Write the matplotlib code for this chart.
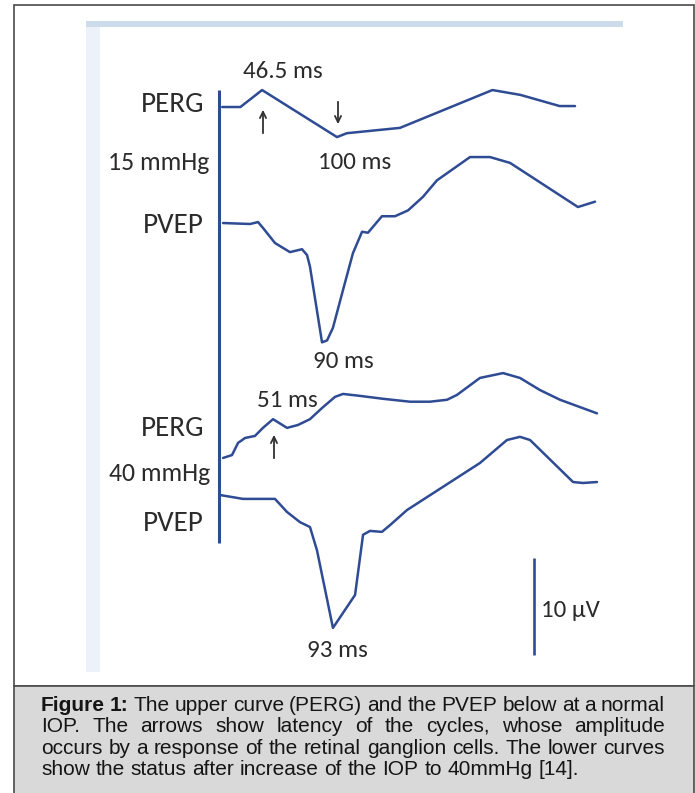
import matplotlib
matplotlib.use("Agg")
import matplotlib.pyplot as plt
from matplotlib import font_manager
from matplotlib.patches import Rectangle

# traces: time (ms) and amplitude (uV, relative to the trace start)
perg15_t = [18, 31, 46.5, 100, 107, 145, 211, 231, 259, 270]
perg15_v = [0, 0, 1.75, -3.1, -2.7, -2.15, 1.75, 1.25, 0.1, 0.1]

pvep15_t = [18.6, 37.9, 43.6, 47.1, 55.7, 66.4, 75, 78.6, 80.7, 89.3, 92.9, 97.1,
            104.3, 111.4, 117.9, 122.1, 132.1, 141.4, 150.7, 161.4, 171.4, 195,
            209.3, 223.6, 272.1, 284.3]
pvep15_v = [0, -0.1, 0.1, -0.5, -2.06, -3.0, -2.7, -3.3, -4.5, -12.3, -12.1, -10.8,
            -6.9, -3.1, -0.9, -1.0, 0.7, 0.7, 1.3, 2.7, 4.4, 6.8,
            6.8, 6.2, 1.65, 2.2]

perg40_t = [18.6, 25, 29.3, 34.3, 41.4, 47.1, 54.3, 64.3, 72.1, 80.7, 89.3, 98.6,
            104.3, 116.4, 132.9, 152.1, 166.4, 178.6, 185.7, 202.1, 218.6, 230.7,
            245, 259.3, 285.7]
perg40_v = [0, 0.3, 1.55, 2.06, 2.27, 3.1, 4.0, 3.1, 3.4, 4.0, 5.15, 6.3,
            6.6, 6.4, 6.1, 5.8, 5.8, 6.0, 6.5, 8.25, 8.75, 8.25,
            7.0, 6.0, 4.6]

pvep40_t = [16.4, 32.9, 55.7, 64.3, 73.6, 80.7, 85.7, 97.1, 112.9, 118.6, 123.6,
            132.1, 137.9, 150, 202.1, 221.4, 230.7, 237.9, 268.6, 275.7, 285.7]
pvep40_v = [0, -0.4, -0.4, -1.75, -2.8, -3.3, -5.7, -13.7, -10.3, -4.1, -3.7,
            -3.8, -3.1, -1.55, 3.3, 5.67, 6.0, 5.67, 1.34, 1.24, 1.34]

# where each trace sits on the page (uV above the bottom edge)
levels = [70.72, 58.76, 34.54, 30.72]
traces = [(perg15_t, perg15_v), (pvep15_t, pvep15_v),
          (perg40_t, perg40_v), (pvep40_t, pvep40_v)]

scale_uv = 10
caption_lines = [
    "The upper curve (PERG) and the PVEP below at a normal",
    "IOP. The arrows show latency of the cycles, whose amplitude",
    "occurs by a response of the retinal ganglion cells. The lower curves",
    "show the status after increase of the IOP to 40mmHg [14].",
]

W, H = 695, 793
BLUE = "#2e4b94"
TXT = "#2b2b2b"
names = {f.name for f in font_manager.fontManager.ttflist}

def pick(*cands):
    for c in cands:
        if c in names:
            return c
    return "DejaVu Sans"

lab_font = [pick("Carlito", "Lato"), "DejaVu Sans"]
cap_font = pick("Liberation Sans", "Arimo")

fig = plt.figure(figsize=(W / 100, H / 100), dpi=100)
bg = fig.add_axes([0, 0, 1, 1])
bg.set_xlim(0, W)
bg.set_ylim(H, 0)
bg.axis("off")

# frame, caption box and pale decorations
bg.add_patch(Rectangle((14, 5), 680, 681, fc="white", ec="#4a4a4a", lw=1.2))
bg.add_patch(Rectangle((14, 686), 680, 120, fc="#d9d9d9", ec="#4a4a4a", lw=1.2))
bg.add_patch(Rectangle((86, 21), 537, 6, fc="#cddcea", ec="none"))
bg.add_patch(Rectangle((86, 27), 14, 645, fc="#edf2fa", ec="none"))
bg.plot([219, 219], [90, 543], color=BLUE, lw=2.2, solid_capstyle="butt")

# trace axes in ms / uV
PX_MS, X0, PX_UV = 1.4, 197, 9.7
tr = fig.add_axes([0, 0, 1, 1], facecolor="none")
tr.set_xlim(-X0 / PX_MS, (W - X0) / PX_MS)
tr.set_ylim(0, H / PX_UV)
tr.axis("off")
for (t, v), lev in zip(traces, levels):
    tr.plot(t, [lev + a for a in v], color=BLUE, lw=1.8,
            solid_joinstyle="round", solid_capstyle="round")
tr.plot([240.7, 240.7], [14.2, 14.2 + scale_uv], color=BLUE, lw=1.9, solid_capstyle="butt")

# labels
def lab(x, y, s, size=18, ha="center"):
    bg.text(x, y, s, fontsize=size, ha=ha, va="baseline", color=TXT, family=lab_font)

lab(283, 78, "46.5 ms")
lab(204, 112, "PERG", 21, "right")
lab(209, 170, "15 mmHg", 18.5, "right")
lab(355, 169, "100 ms")
lab(204, 233, "PVEP", 21, "right")
lab(343, 368, "90 ms")
lab(287, 407, "51 ms")
lab(204, 436, "PERG", 21, "right")
lab(210, 481, "40 mmHg", 18.5, "right")
lab(204, 531, "PVEP", 21, "right")
lab(337, 657, "93 ms")
lab(541, 617, "10 \u00b5V", 18, "left")

arrow = dict(arrowstyle="->,head_length=0.45,head_width=0.22", color="#333333", lw=1.3)
bg.annotate("", xy=(263, 107), xytext=(263, 136), arrowprops=arrow)
bg.annotate("", xy=(338, 127), xytext=(338, 99), arrowprops=arrow)
bg.annotate("", xy=(274, 432), xytext=(274, 461), arrowprops=arrow)

# caption, justified
fig.canvas.draw()
rend = fig.canvas.get_renderer()

def width(s, size, weight="normal"):
    t = bg.text(0, 0, s, fontsize=size, family=cap_font, weight=weight)
    w = t.get_window_extent(rend).width
    t.remove()
    return w

left, right = 41, 665
size = 13.4 * 535 / width(caption_lines[3], 13.4)
space = width("x x", size) - width("xx", size)
baselines = [711, 732, 753.5, 775]
for i, line in enumerate(caption_lines):
    words = [(w, "normal") for w in line.split()]
    if i == 0:
        words = [("Figure", "bold"), ("1:", "bold")] + words
    ws = [width(w, size, wt) for w, wt in words]
    if i < 3:
        gap = max((right - left - sum(ws)) / (len(ws) - 1), 0.6 * space)
    else:
        gap = space
    x = left
    for (w, wt), wd in zip(words, ws):
        bg.text(x, baselines[i], w, fontsize=size, family=cap_font, weight=wt,
                va="baseline", ha="left", color="#151515")
        x += wd + gap

fig.savefig("out.png", dpi=100)
